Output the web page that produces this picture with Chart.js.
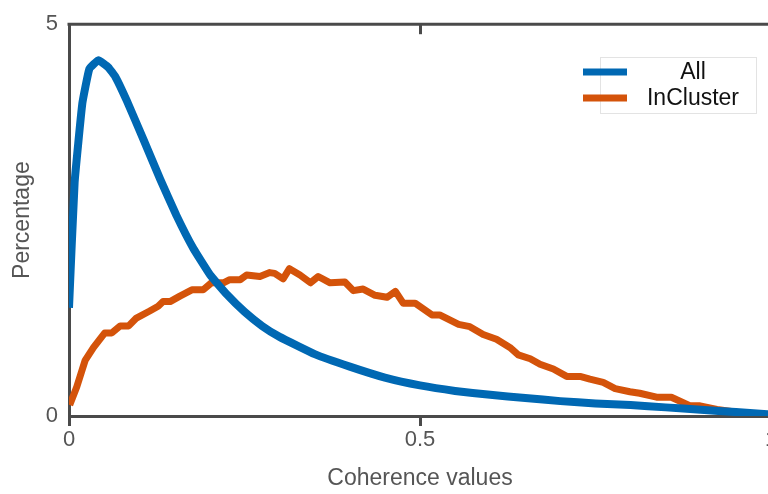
<!DOCTYPE html>
<html>
<head>
<meta charset="utf-8">
<script src="https://cdn.jsdelivr.net/npm/chart.js@4/dist/chart.umd.min.js"></script>
<style>
  html, body { margin: 0; padding: 0; overflow: hidden; background: #fff; }
  #wrap { width: 768px; height: 494px; overflow: hidden; }
</style>
</head>
<body>
<div id="wrap"><canvas id="coherenceChart" width="790" height="494"></canvas></div>
<script>
// values
let xAll = [0, 0.008, 0.019, 0.029, 0.042, 0.056, 0.066, 0.082, 0.106, 0.13, 0.153, 0.177, 0.201, 0.225, 0.25, 0.275, 0.3, 0.35, 0.4, 0.45, 0.5, 0.55, 0.6, 0.65, 0.7, 0.75, 0.8, 0.85, 0.9, 0.95, 1.0];
let yAll = [1.38, 2.98, 3.99, 4.43, 4.54, 4.45, 4.33, 4.03, 3.53, 3.02, 2.56, 2.14, 1.80, 1.55, 1.33, 1.15, 1.01, 0.79, 0.63, 0.49, 0.39, 0.32, 0.27, 0.23, 0.19, 0.16, 0.14, 0.11, 0.08, 0.05, 0.02];

let xIn = [0.001, 0.011, 0.023, 0.035, 0.051, 0.061, 0.073, 0.085, 0.096, 0.115, 0.127, 0.134, 0.144, 0.158, 0.175, 0.191, 0.203, 0.22, 0.229, 0.244, 0.253, 0.272, 0.286, 0.293, 0.305, 0.314, 0.329, 0.344, 0.355, 0.372, 0.393, 0.405, 0.419, 0.436, 0.453, 0.465, 0.476, 0.493, 0.517, 0.528, 0.555, 0.571, 0.59, 0.609, 0.628, 0.64, 0.657, 0.671, 0.69, 0.709, 0.728, 0.742, 0.761, 0.778, 0.799, 0.813, 0.837, 0.858, 0.885, 0.899, 0.923, 0.946, 0.975, 0.994];
let yIn = [0.14, 0.37, 0.71, 0.875, 1.06, 1.06, 1.15, 1.15, 1.25, 1.34, 1.40, 1.46, 1.46, 1.53, 1.61, 1.61, 1.70, 1.70, 1.74, 1.74, 1.80, 1.78, 1.83, 1.82, 1.75, 1.88, 1.80, 1.70, 1.78, 1.70, 1.71, 1.60, 1.62, 1.54, 1.515, 1.59, 1.44, 1.44, 1.29, 1.29, 1.17, 1.14, 1.04, 0.98, 0.875, 0.78, 0.73, 0.66, 0.60, 0.505, 0.505, 0.47, 0.43, 0.35, 0.31, 0.29, 0.24, 0.24, 0.13, 0.13, 0.085, 0.055, 0.013, 0.0];

let xTicks = [0, 0.5, 1];
let yTicks = [0, 5];
let seriesNames = ["All", "InCluster"];

const axisColor = "#4a4a4a";
const textColor = "#555555";
const font = "'Liberation Sans', Arial, Helvetica, sans-serif";

function toPoints(xs, ys) {
  return xs.map((x, i) => ({ x: x, y: ys[i] }));
}

// top border with the inner tick, and the boxed legend
const boxPlugin = {
  id: "boxPlugin",
  afterDraw(chart) {
    const ctx = chart.ctx;
    const area = chart.chartArea;
    const xs = chart.scales.x;
    ctx.save();
    ctx.strokeStyle = axisColor;
    ctx.lineWidth = 3;
    ctx.beginPath();
    ctx.moveTo(area.left - 1.5, area.top);
    ctx.lineTo(area.right, area.top);
    ctx.stroke();
    xTicks.forEach((t) => {
      let px = Math.round(xs.getPixelForValue(t)) + 0.5;
      ctx.beginPath();
      ctx.moveTo(px, area.top);
      ctx.lineTo(px, area.top + 10);
      ctx.stroke();
    });

    // legend
    ctx.strokeStyle = "#e3e3e3";
    ctx.lineWidth = 1;
    ctx.strokeRect(600.5, 57.5, 156, 56);
    ctx.font = "23px " + font;
    ctx.textAlign = "center";
    ctx.textBaseline = "middle";
    chart.data.datasets.forEach((ds, i) => {
      let y = 72 + i * 26;
      ctx.strokeStyle = ds.borderColor;
      ctx.lineWidth = 7;
      ctx.lineCap = "butt";
      ctx.beginPath();
      ctx.moveTo(583, y);
      ctx.lineTo(627, y);
      ctx.stroke();
      ctx.fillStyle = "#111";
      ctx.fillText(ds.label, 693, y + 1);
    });
    ctx.restore();
  },
};

let chart_Data = {
  datasets: [
    {
      label: seriesNames[0],
      data: toPoints(xAll, yAll),
      borderColor: "#0068b3",
      borderWidth: 8,
      borderJoinStyle: "round",
      borderCapStyle: "butt",
      pointRadius: 0,
      tension: 0.1,
      fill: false,
    },
    {
      label: seriesNames[1],
      data: toPoints(xIn, yIn),
      borderColor: "#d4530a",
      borderWidth: 7,
      borderJoinStyle: "round",
      borderCapStyle: "butt",
      pointRadius: 0,
      tension: 0,
      fill: false,
    },
  ],
};

let options = {
  responsive: false,
  animation: false,
  layout: { padding: { top: 20, right: 19, left: 0, bottom: 0 } },
  plugins: { legend: { display: false }, tooltip: { enabled: false } },
  scales: {
    x: {
      type: "linear",
      min: 0,
      max: 1,
      afterFit: (scale) => { scale.height = 78; },
      afterBuildTicks: (scale) => { scale.ticks = xTicks.map((v) => ({ value: v })); },
      ticks: {
        color: textColor,
        font: { size: 22, family: font },
        padding: 1,
        maxRotation: 0,
        callback: (v) => String(v),
      },
      grid: { drawOnChartArea: false, drawTicks: true, tickLength: 10, tickWidth: 3, tickColor: axisColor },
      border: { display: true, color: axisColor, width: 3 },
      title: {
        display: true,
        text: "Coherence values",
        color: textColor,
        font: { size: 23, family: font },
        padding: { top: 0, bottom: 2 },
      },
    },
    y: {
      type: "linear",
      min: 0,
      max: 5,
      afterFit: (scale) => { scale.width = 69; },
      afterBuildTicks: (scale) => { scale.ticks = yTicks.map((v) => ({ value: v })); },
      ticks: {
        color: textColor,
        font: { size: 22, family: font },
        padding: 11,
        callback: (v) => String(v),
      },
      grid: { drawOnChartArea: false, drawTicks: false },
      border: { display: true, color: axisColor, width: 3 },
      title: {
        display: true,
        text: "Percentage",
        color: textColor,
        font: { size: 23, family: font },
        padding: { top: 9, bottom: 0 },
      },
    },
  },
};

var ctx = document.getElementById("coherenceChart").getContext("2d");
var myChart = new Chart(ctx, {
  type: "line",
  data: chart_Data,
  options: options,
  plugins: [boxPlugin],
});
</script>
</body>
</html>
